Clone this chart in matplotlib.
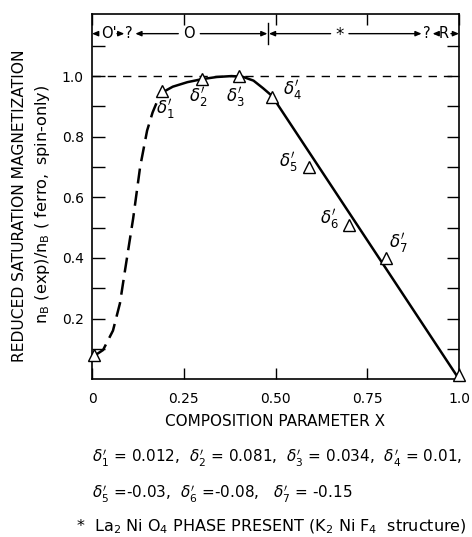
import matplotlib
matplotlib.use('Agg')
import matplotlib.pyplot as plt
import numpy as np

# measured points (triangles)
pt_x = [0.005, 0.19, 0.30, 0.40, 0.49, 0.59, 0.70, 0.80, 1.0]
pt_y = [0.08, 0.95, 0.99, 1.0, 0.93, 0.70, 0.51, 0.40, 0.015]

# dashed part of the curve
dash_x = [0.01, 0.03, 0.057, 0.076, 0.09, 0.112, 0.131, 0.15, 0.165, 0.177, 0.19]
dash_y = [0.08, 0.096, 0.16, 0.25, 0.36, 0.53, 0.70, 0.82, 0.88, 0.915, 0.945]

# solid part of the curve
solid_x = [0.19, 0.22, 0.26, 0.30, 0.34, 0.38, 0.41, 0.44, 0.466, 0.49, 1.0]
solid_y = [0.945, 0.965, 0.98, 0.99, 0.997, 1.0, 0.998, 0.985, 0.96, 0.935, 0.0]

# labels next to the points
lab_x = [0.20, 0.29, 0.39, 0.545, 0.535, 0.648, 0.834]
lab_y = [0.89, 0.93, 0.93, 0.955, 0.716, 0.53, 0.45]
lab_txt = [r"$\delta_1'$", r"$\delta_2'$", r"$\delta_3'$", r"$\delta_4'$",
           r"$\delta_5'$", r"$\delta_6'$", r"$\delta_7'$"]

x_ticks = [0, 0.25, 0.5, 0.75, 1.0]
x_ticklabels = ['0', '0.25', '0.50', '0.75', '1.0']
y_major = [0.2, 0.4, 0.6, 0.8, 1.0]
y_ticklabels = ['0.2', '0.4', '0.6', '0.8', '1.0']
y_minor = [0.1, 0.3, 0.5, 0.7, 0.9, 1.1]

fig = plt.figure(figsize=(4.72, 5.37), dpi=100)
ax = fig.add_axes([0.195, 0.294, 0.7775, 0.68])

ax.axhline(1.0, color='black', lw=1.0, dashes=(6, 5))
ax.plot(dash_x, dash_y, color='black', lw=1.8, dashes=(6, 3))
ax.plot(solid_x, solid_y, color='black', lw=1.8, solid_capstyle='butt')
ax.plot(pt_x, pt_y, linestyle='none', marker='^', markersize=9,
        markerfacecolor='white', markeredgecolor='black', markeredgewidth=1.0,
        clip_on=False, zorder=5)

for x, y, t in zip(lab_x, lab_y, lab_txt):
    ax.text(x, y, t, fontsize=12, ha='center', va='center')

ax.set_xlim(0, 1.0)
ax.set_ylim(0, 1.205)

ax.set_xticks(x_ticks)
ax.set_xticklabels(x_ticklabels, fontsize=10)
ax.set_yticks(y_major)
ax.set_yticklabels(y_ticklabels, fontsize=10)
ax.set_yticks(y_minor, minor=True)
ax.tick_params(axis='both', which='both', direction='in', width=1.0,
               top=True, right=True)
ax.tick_params(axis='y', which='both', length=9, pad=6)
ax.tick_params(axis='x', which='major', length=8, pad=9)
for s in ax.spines.values():
    s.set_linewidth(1.2)

ax.set_xlabel('COMPOSITION PARAMETER X', fontsize=11, labelpad=6)
fig.text(0.042, 0.616, 'REDUCED SATURATION MAGNETIZATION', rotation=90,
         fontsize=11.2, ha='center', va='center')
fig.text(0.091, 0.62, r'$\mathregular{n_B\ (exp)/n_B\ (\ ferro,\ spin\text{-}only)}$',
         rotation=90, fontsize=11.6, ha='center', va='center')

# phase regions along the top
yb = 1.14
ak = dict(arrowstyle='-|>,head_length=0.35,head_width=0.15', color='black',
          lw=1.0, shrinkA=0, shrinkB=0)
ax.annotate('', xy=(0.0, yb), xytext=(0.016, yb), arrowprops=ak)
ax.text(0.045, yb, "O'", fontsize=10.5, ha='center', va='center')
ax.annotate('', xy=(0.088, yb), xytext=(0.068, yb), arrowprops=ak)
ax.text(0.1, yb, '?', fontsize=10.5, ha='center', va='center')
ax.annotate('', xy=(0.118, yb), xytext=(0.235, yb), arrowprops=ak)
ax.text(0.265, yb, 'O', fontsize=10.5, ha='center', va='center')
ax.annotate('', xy=(0.478, yb), xytext=(0.295, yb), arrowprops=ak)
ax.plot([0.48, 0.48], [1.105, 1.175], color='black', lw=1.0)
ax.annotate('', xy=(0.482, yb), xytext=(0.65, yb), arrowprops=ak)
ax.text(0.676, yb - 0.005, '*', fontsize=12, ha='center', va='center')
ax.annotate('', xy=(0.898, yb), xytext=(0.70, yb), arrowprops=ak)
ax.text(0.913, yb, '?', fontsize=10.5, ha='center', va='center')
ax.annotate('', xy=(0.928, yb), xytext=(0.942, yb), arrowprops=ak)
ax.text(0.957, yb, 'R', fontsize=10.5, ha='center', va='center')
ax.annotate('', xy=(1.0, yb), xytext=(0.978, yb), arrowprops=ak)

# notes under the plot
fig.text(0.195, 1 - 458 / 537,
         r"$\delta_1'$ = 0.012,  $\delta_2'$ = 0.081,  $\delta_3'$ = 0.034,  $\delta_4'$ = 0.01,",
         fontsize=11, ha='left', va='center')
fig.text(0.195, 1 - 494 / 537,
         r"$\delta_5'$ =-0.03,  $\delta_6'$ =-0.08,   $\delta_7'$ = -0.15",
         fontsize=11, ha='left', va='center')
fig.text(0.16, 1 - 527 / 537,
         r"*  La$_2$ Ni O$_4$ PHASE PRESENT (K$_2$ Ni F$_4$  structure)",
         fontsize=11.5, ha='left', va='center')

fig.savefig('out.png', dpi=100)
